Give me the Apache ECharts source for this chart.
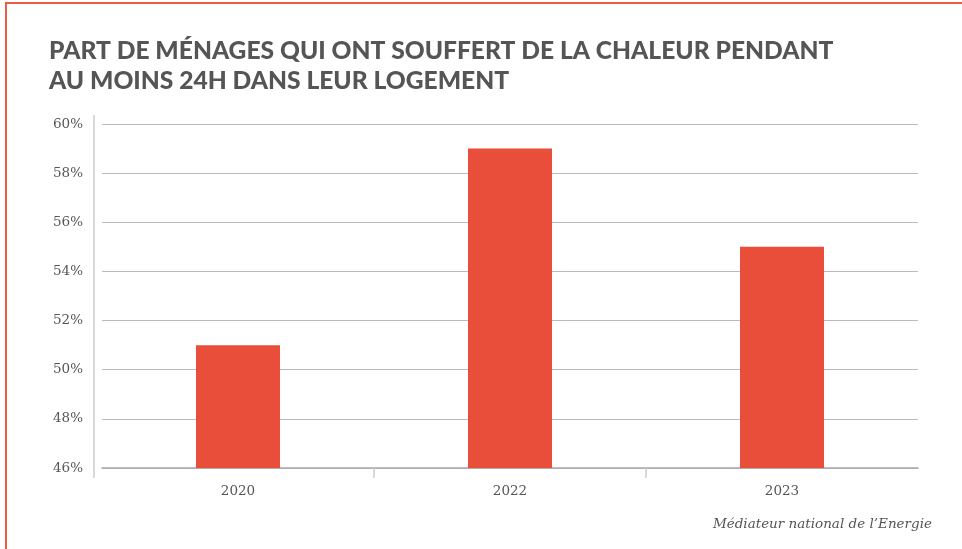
<!DOCTYPE html>
<html>
<head>
<meta charset="utf-8">
<script src="https://cdn.jsdelivr.net/npm/echarts@6/dist/echarts.min.js"></script>
<style>
  html, body { margin: 0; padding: 0; background: #fff; }
  #frame {
    position: absolute; left: 5px; top: 2px; right: 0; bottom: 0;
    border-top: 2px solid #ec5a48; border-left: 2px solid #ec5a48;
    pointer-events: none;
  }
  #main { width: 962px; height: 549px; }
</style>
</head>
<body>
<div id="main"></div>
<div id="frame"></div>
<script>
// data
var years = ["2020", "2022", "2023"];
var shares = [51, 59, 55];
var yMin = 46, yMax = 60, yStep = 2;

var myChart = echarts.init(document.getElementById("main"));
myChart.setOption({
  animation: false,
  backgroundColor: "#fff",
  title: [
    {
      text: "PART DE MÉNAGES QUI ONT SOUFFERT DE LA CHALEUR PENDANT\nAU MOINS 24H DANS LEUR LOGEMENT",
      left: 44,
      top: 31,
      textStyle: {
        fontFamily: "Lato",
        fontWeight: 900,
        fontSize: 24.6,
        lineHeight: 30,
        color: "#555"
      }
    },
    {
      text: "Médiateur national de l’Energie",
      right: 25,
      top: 512,
      textStyle: {
        fontFamily: "DejaVu Serif",
        fontStyle: "italic",
        fontWeight: "normal",
        fontSize: 13.5,
        color: "#555"
      }
    }
  ],
  grid: { left: 102, right: 44, top: 124, bottom: 81 },
  xAxis: [
    {
      type: "category",
      data: years,
      axisLine: { lineStyle: { color: "#aaa", width: 1.5 } },
      axisTick: { show: false },
      axisLabel: {
        margin: 16,
        fontFamily: "DejaVu Serif",
        fontSize: 13.5,
        color: "#555"
      }
    },
    {
      // only used for the separator ticks between the years
      type: "value",
      position: "bottom",
      min: 0,
      max: years.length,
      axisLine: { show: false },
      splitLine: { show: false },
      axisLabel: { show: false },
      axisTick: {
        show: true,
        length: 10,
        customValues: [1, 2],
        lineStyle: { color: "#ccc", width: 1.5 }
      }
    }
  ],
  yAxis: {
    type: "value",
    min: yMin,
    max: yMax,
    interval: yStep,
    offset: 8,
    axisLine: { show: false },
    axisTick: { show: false },
    splitLine: { lineStyle: { color: "#bbb", width: 1 } },
    axisLabel: {
      margin: 11,
      formatter: "{value}%",
      fontFamily: "DejaVu Serif",
      fontSize: 13.5,
      color: "#555"
    }
  },
  graphic: [
    {
      type: "line",
      shape: { x1: 94, y1: 115, x2: 94, y2: 478 },
      style: { stroke: "#ccc", lineWidth: 1.5 }
    }
  ],
  series: [
    {
      type: "bar",
      data: shares,
      barWidth: 84,
      itemStyle: { color: "#e94e3b" }
    }
  ]
});
</script>
</body>
</html>
